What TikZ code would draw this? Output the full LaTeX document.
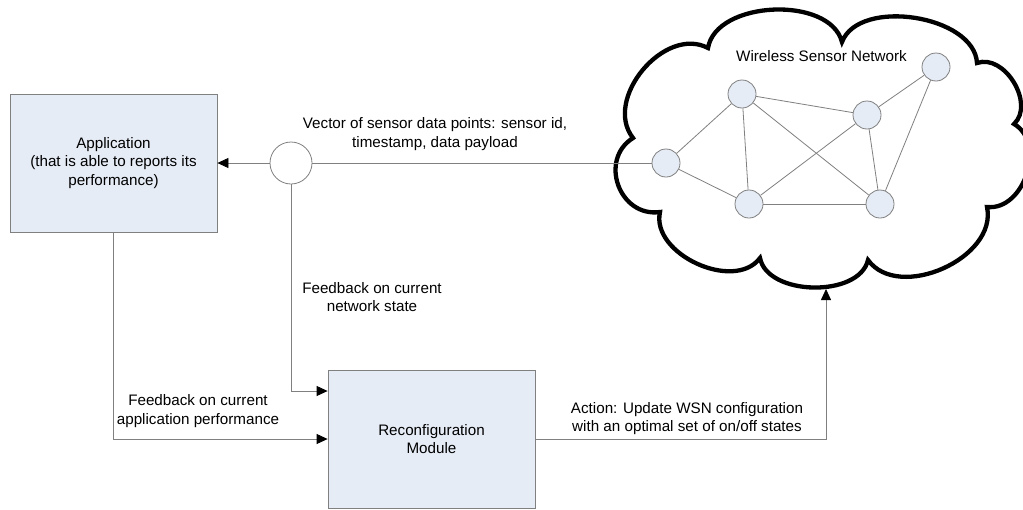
\documentclass[tikz,border=0pt]{standalone}
\usepackage{fontspec}
\setmainfont{Liberation Sans}
\usetikzlibrary{arrows.meta,calc}
\definecolor{boxfill}{RGB}{230,236,246}
\definecolor{edgegray}{RGB}{128,128,128}
\begin{document}
\begin{tikzpicture}[x=1pt,y=-1pt,
  font=\fontsize{15.2}{18.5}\selectfont,
  box/.style={draw=edgegray,fill=boxfill,line width=0.8pt,minimum width=207pt,minimum height=138pt,align=center,inner sep=0pt},
  sensor/.style={circle,draw=edgegray,fill=boxfill,line width=0.8pt,minimum size=28pt,inner sep=0pt},
  junction/.style={circle,draw=edgegray,fill=white,line width=0.8pt,minimum size=42pt,inner sep=0pt},
  link/.style={draw=edgegray,line width=0.8pt},
  flow/.style={draw=edgegray,line width=0.8pt,-{Triangle[length=11pt,width=10pt,color=black]}},
  lbl/.style={align=center,inner sep=0pt},
  cloudline/.style={draw=black,line width=4.3pt,fill=white,line join=miter}
]
\useasboundingbox (0,0) rectangle (1023,509);

% cloud
\coordinate (c9) at (633,138);
\coordinate (c1) at (708,48);
\coordinate (c2) at (842,42);
\coordinate (c3) at (977,63);
\coordinate (c4) at (1014,124);
\coordinate (c5) at (987,207);
\coordinate (c6) at (868,260);
\coordinate (c7) at (760,258);
\coordinate (c8) at (660,212);
\path[cloudline] (c9)
  .. controls ($(c9)!0.42!78:(c1)$) and ($(c1)!0.42!-78:(c9)$) .. (c1)
  .. controls ($(c1)!0.36!78:(c2)$) and ($(c2)!0.36!-78:(c1)$) .. (c2)
  .. controls ($(c2)!0.35!78:(c3)$) and ($(c3)!0.35!-78:(c2)$) .. (c3)
  .. controls ($(c3)!0.41!78:(c4)$) and ($(c4)!0.41!-78:(c3)$) .. (c4)
  .. controls ($(c4)!0.43!78:(c5)$) and ($(c5)!0.43!-78:(c4)$) .. (c5)
  .. controls ($(c5)!0.40!78:(c6)$) and ($(c6)!0.40!-78:(c5)$) .. (c6)
  .. controls ($(c6)!0.36!78:(c7)$) and ($(c7)!0.36!-78:(c6)$) .. (c7)
  .. controls ($(c7)!0.39!78:(c8)$) and ($(c8)!0.39!-78:(c7)$) .. (c8)
  .. controls ($(c8)!0.52!78:(c9)$) and ($(c9)!0.52!-78:(c8)$) .. (c9) -- cycle;
\coordinate (cb) at (826,289);

\node[lbl] (wsn) at (821.5,56) {Wireless Sensor Network};

% sensors
\node[sensor] (n1) at (666,163) {};
\node[sensor] (n2) at (742,94) {};
\node[sensor] (n3) at (749,204) {};
\node[sensor] (n4) at (867,115) {};
\node[sensor] (n5) at (880,204) {};
\node[sensor] (n6) at (936,67) {};
\draw[link] (n1) -- (n2);
\draw[link] (n1) -- (n3);
\draw[link] (n2) -- (n3);
\draw[link] (n2) -- (n4);
\draw[link] (n2) -- (n5);
\draw[link] (n3) -- (n4);
\draw[link] (n3) -- (n5);
\draw[link] (n4) -- (n5);
\draw[link] (n4) -- (n6);
\draw[link] (n6) -- (n5);

% main blocks
\node[box] (app) at (113.5,163) {Application\\(that is able to reports its\\performance)};
\node[box] (rec) at (431.5,439) {Reconfiguration\\Module};
\node[junction] (jn) at (291,163) {};

% connectors
\draw[link] (n1) -- (jn.east);
\draw[flow] (jn.west) -- (app.east);
\draw[flow] (app.south) |- (rec.west);
\draw[flow] (jn.south) |- ([yshift=48pt]rec.west);
\draw[flow] (rec.east) -| (cb);

% labels
\node[lbl] (lvec) at (435,134) {Vector of sensor data points: sensor id,\\timestamp, data payload};
\node[lbl] (lnet) at (372,297) {Feedback on current\\network state};
\node[lbl] (lapp) at (198,411) {Feedback on current\\application performance};
\node[lbl] (lact) at (687,418.5) {Action: Update WSN configuration\\with an optimal set of on/off states};
\end{tikzpicture}
\end{document}
